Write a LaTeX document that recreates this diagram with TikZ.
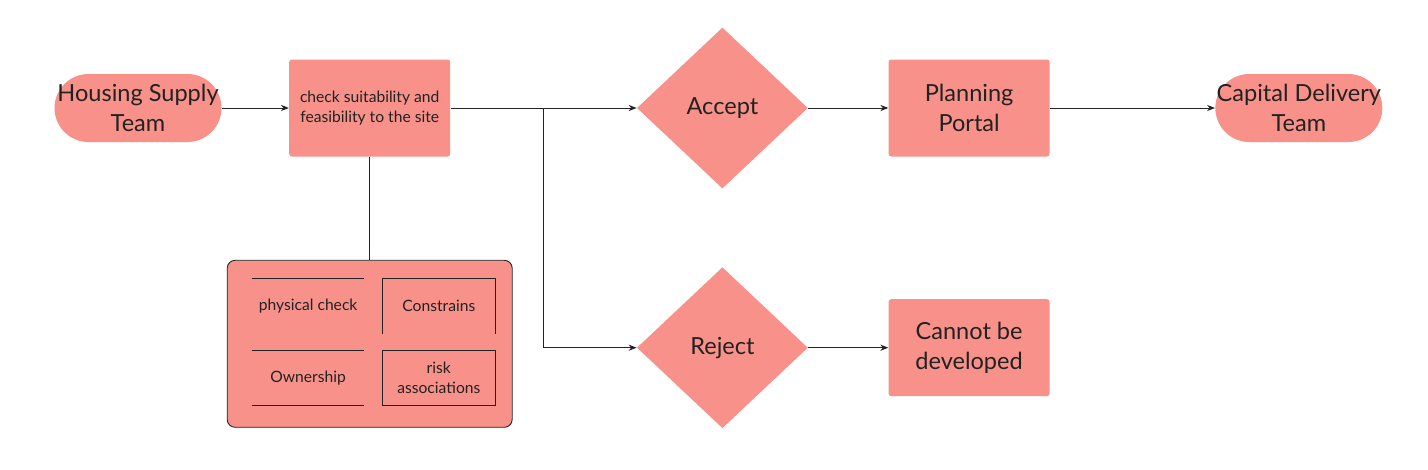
\documentclass[tikz,border=0pt]{standalone}
\usepackage{fontspec}
\setmainfont{Lato}
\usetikzlibrary{shapes.geometric,arrows.meta,positioning}
\definecolor{salmon}{RGB}{248,145,138}
\definecolor{ink}{RGB}{34,34,34}

\tikzset{
  bigtext/.style={font=\fontsize{13.4}{17}\selectfont, text=ink},
  smalltext/.style={font=\fontsize{8.9}{11.4}\selectfont, text=ink},
  terminal/.style={rectangle, rounded corners=0.68cm, fill=salmon, minimum height=1.36cm, minimum width=3.34cm, inner sep=0pt, align=center, bigtext},
  process/.style={rectangle, rounded corners=1.5pt, fill=salmon, minimum height=1.94cm, minimum width=3.22cm, inner sep=0pt, align=center},
  decision/.style={diamond, fill=salmon, minimum width=3.42cm, minimum height=3.22cm, inner sep=0pt, bigtext},
  cell/.style={rectangle, minimum height=1.1cm, minimum width=2.24cm, inner sep=0pt, align=center, smalltext},
  cellline/.style={draw=ink, line width=0.5pt},
  flow/.style={-{Stealth[length=4.5pt,width=3.5pt]}, draw=ink, line width=0.5pt},
  link/.style={draw=ink, line width=0.5pt}
}

\begin{document}
\begin{tikzpicture}
    \useasboundingbox (0,0) rectangle (28.56,-9.38);
    % top row
    \node(housing) [terminal] at (2.76,-2.16) {Housing Supply\\Team};
    \node(check) [process, smalltext, right = 1.34cm of housing] {check suitability and\\feasibility to the site};
    \node(accept) [decision, right = 3.72cm of check] {Accept};
    \node(planning) [process, bigtext, right = 1.6cm of accept] {Planning\\Portal};
    \node(capital) [terminal, right = 3.3cm of planning] {Capital Delivery\\Team};
    % bottom row
    \node(reject) [decision, below = 1.56cm of accept] {Reject};
    \node(cannot) [process, bigtext, right = 1.6cm of reject] {Cannot be\\developed};
    \coordinate[right = 1.86cm of check] (split);

    % checks box
    \node(details) [rectangle, rounded corners=4.5pt, fill=salmon, draw=ink, line width=0.5pt, minimum width=5.7cm, minimum height=3.34cm, below = 2.06cm of check] {};
    \node(physical) [cell, below right = 0.37cm and 0.5cm of details.north west] {physical check};
    \node(constrains) [cell, right = 0.36cm of physical] {Constrains};
    \node(ownership) [cell, below = 0.32cm of physical] {Ownership};
    \node(risk) [cell, below = 0.32cm of constrains] {risk\\associations};
    \draw[cellline] (physical.north west) -- (physical.north east);
    \draw[cellline] (constrains.south west) -- (constrains.north west) -- (constrains.north east) -- (constrains.south east);
    \draw[cellline] (ownership.north west) -- (ownership.north east);
    \draw[cellline] (ownership.south west) -- (ownership.south east);
    \draw[cellline] (risk.south west) rectangle (risk.north east);

    % connectors
    \draw[flow] (housing) -- (check);
    \draw[flow] (check) -- (accept);
    \draw[flow] (split) |- (reject.west);
    \draw[link] (check.south) -- (details.north);
    \draw[flow] (accept) -- (planning);
    \draw[flow] (planning) -- (capital);
    \draw[flow] (reject) -- (cannot);
\end{tikzpicture}
\end{document}
